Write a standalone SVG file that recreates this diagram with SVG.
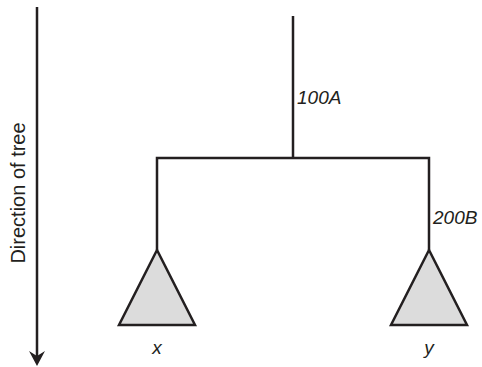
<svg xmlns="http://www.w3.org/2000/svg" width="482" height="367" viewBox="0 0 482 367">
<style>
.ln{stroke:#231f20;stroke-width:2.5;fill:none}
.tri{fill:#dcdcdc;stroke:#231f20;stroke-width:2.5;stroke-linejoin:miter}
.lbl{font-family:"Liberation Sans",Arial,sans-serif;font-style:italic;font-size:19px;fill:#231f20}
.ax{font-family:"Liberation Sans",Arial,sans-serif;font-size:20px;fill:#231f20}
</style>
<g id="axis">
<line class="ln" x1="37" y1="7" x2="37" y2="358"/>
<path d="M37,366 L29,351 L37,356 L45,351 Z" fill="#231f20"/>
<text class="ax" transform="translate(25,193) rotate(-90)" text-anchor="middle">Direction of tree</text>
</g>
<g id="connectors">
<line class="ln" x1="293" y1="16" x2="293" y2="158"/>
<polyline class="ln" points="157,250 157,158 429,158 429,250"/>
</g>
<g id="edge-100A"><text class="lbl" x="297" y="104">100A</text></g>
<g id="edge-200B"><text class="lbl" x="433" y="224">200B</text></g>
<g id="node-x">
<polygon class="tri" points="157,250 119,325 195,325"/>
<text class="lbl" x="157" y="354" text-anchor="middle">x</text>
</g>
<g id="node-y">
<polygon class="tri" points="429,250 391,325 467,325"/>
<text class="lbl" x="429" y="354" text-anchor="middle">y</text>
</g>
</svg>
